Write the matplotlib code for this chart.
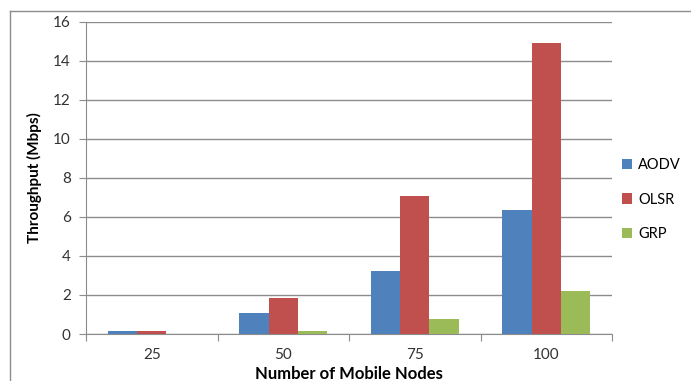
import numpy as np
import matplotlib
matplotlib.use('Agg')
import matplotlib.pyplot as plt
from matplotlib.lines import Line2D

plt.rcParams['font.family'] = ['Lato', 'DejaVu Sans']

# data
nodes = ['25', '50', '75', '100']
series = ['AODV', 'OLSR', 'GRP']
aodv = [0.15, 1.1, 3.25, 6.35]
olsr = [0.15, 1.85, 7.08, 14.9]
grp = [0.02, 0.15, 0.75, 2.22]
colors = ['#4F81BD', '#C0504D', '#9BBB59']

fig = plt.figure(figsize=(6.91, 3.81), dpi=100)
ax = fig.add_axes([86/691, 1-334/381, (612-86)/691, (334-21.5)/381])

x = np.arange(len(nodes))
w = 0.222
for i, (name, vals) in enumerate(zip(series, [aodv, olsr, grp])):
    ax.bar(x + (i - 1) * w, vals, w, color=colors[i], label=name, zorder=3)

ax.set_xlim(-0.5, 3.5)
ax.set_ylim(0, 16)
ax.set_yticks(np.arange(0, 17, 2))
ax.yaxis.grid(True, color='#8c8c8c', linewidth=1, zorder=0)

# category ticks at boundaries, labels at centers
ax.set_xticks(np.arange(-0.5, 4, 1))
ax.set_xticklabels([])
ax.set_xticks(x, minor=True)
ax.set_xticklabels(nodes, minor=True)
ax.tick_params(axis='x', which='major', length=5, color='#8c8c8c', direction='out')
ax.tick_params(axis='x', which='minor', length=0, pad=10, labelsize=11, labelcolor='#333333')
ax.tick_params(axis='y', length=5, color='#8c8c8c', direction='out', labelsize=11,
               labelcolor='#333333', pad=6)

for s in ['top', 'right']:
    ax.spines[s].set_visible(False)
for s in ['left', 'bottom']:
    ax.spines[s].set_color('#8c8c8c')

ax.set_ylabel('Throughput (Mbps)', fontsize=11, fontweight='bold', labelpad=8)
ax.set_xlabel('Number of Mobile Nodes', fontsize=12, fontweight='bold', labelpad=3)

ax.legend(loc='center left', bbox_to_anchor=(1.0, 0.43), frameon=False, fontsize=10.5,
          handlelength=0.7, handleheight=0.7, handletextpad=0.4, labelspacing=1.4,
          borderaxespad=0.3)

# chart area border (left and top visible)
fig.add_artist(Line2D([10/691, 10/691], [0, 1-11/381], transform=fig.transFigure,
                      color='#8c8c8c', linewidth=1))
fig.add_artist(Line2D([10/691, 1], [1-11/381, 1-11/381], transform=fig.transFigure,
                      color='#8c8c8c', linewidth=1))

fig.savefig('out.png', dpi=100)
